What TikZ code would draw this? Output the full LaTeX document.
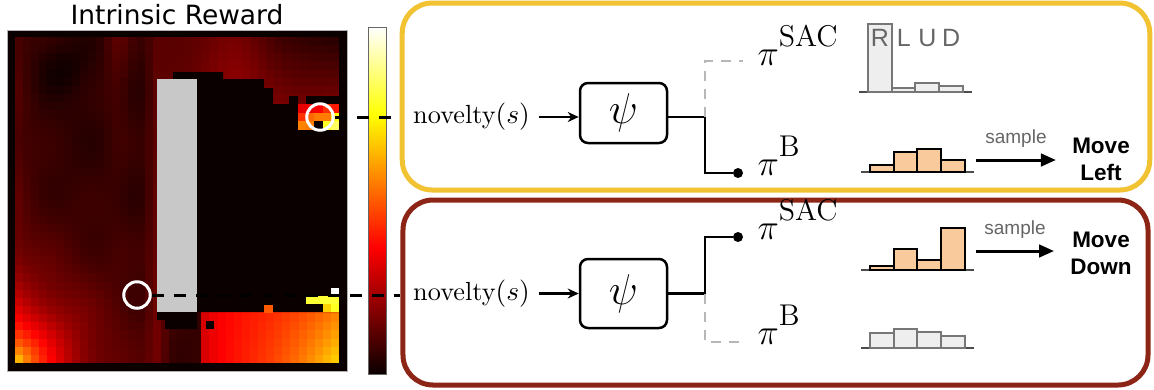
\documentclass[tikz,border=0pt]{standalone}
\usepackage{fontspec}
\setsansfont{Liberation Sans}
\newfontfamily\plotfont{DejaVu Sans}
\usetikzlibrary{arrows.meta,positioning}

\definecolor{goldline}{HTML}{F1C232}
\definecolor{berryline}{HTML}{8C2516}
\definecolor{peach}{HTML}{F9CB9C}
\definecolor{barline}{HTML}{777777}
\definecolor{barfill}{HTML}{EEEEEE}
\definecolor{offpath}{HTML}{B7B7B7}
\definecolor{wallgray}{HTML}{C8C8C8}
\definecolor{hot0}{rgb}{0.04,0,0}

% hot colour map: value -> colour hm
\newcommand{\sethot}[1]{%
  \pgfmathsetmacro\hotr{min(1,max(0.04,#1/0.365))}%
  \pgfmathsetmacro\hotg{min(1,max(0,(#1-0.365)/0.381))}%
  \pgfmathsetmacro\hotb{min(1,max(0,(#1-0.746)/0.254))}%
  \definecolor{hm}{rgb}{\hotr,\hotg,\hotb}}
\newcommand{\hotrect}[5]{\sethot{#5}\fill[hm] (#1,#2) rectangle ++(#3,#4);}

\newcommand{\policy}[1]{$\pi$\raisebox{7.5pt}{\fontsize{12}{14}\selectfont\rmfamily #1}}

% name, first bar x, baseline y, bar style, heights
\newcommand{\histo}[5]{%
  \draw[axisline] (#2-9,#3) -- (#2+104,#3);
  \foreach \h [count=\k from 0] in {#5}
    \draw[#4] ({#2+23.7*\k},#3) rectangle ++(23.7,-\h);
  \coordinate (#1) at (#2+106,#3);}

\begin{document}
\begin{tikzpicture}[x=0.4pt,y=-0.4pt,
  panel/.style={rectangle,rounded corners=12pt,line width=2pt,minimum width=299pt},
  psibox/.style={draw,rectangle,rounded corners=3.2pt,line width=1pt,minimum width=34.8pt,
    font=\fontsize{16}{18}\selectfont},
  novel/.style={font=\fontsize{10.5}{12}\selectfont},
  feed/.style={line width=0.9pt,-{Stealth[length=4.4pt,width=4pt]}},
  chosen/.style={line width=0.9pt},
  skipped/.style={line width=0.9pt,offpath,dash pattern=on 4pt off 3.2pt},
  pick/.style={circle,fill,inner sep=0pt,minimum size=4pt},
  pinode/.style={inner sep=0pt,anchor=base west,font=\fontsize{14}{16}\selectfont},
  axisline/.style={line width=0.7pt,black!70},
  greybar/.style={draw=barline,fill=barfill,line width=0.8pt},
  peachbar/.style={draw=black,fill=peach,line width=0.8pt},
  actlabel/.style={text=black!60,font=\sffamily\fontsize{10}{12}\selectfont,inner sep=0pt},
  drawarrow/.style={line width=1.2pt,-{Triangle[length=6pt,width=5pt]}},
  drawlabel/.style={text=black!60,font=\sffamily\fontsize{7.6}{9}\selectfont},
  movetext/.style={align=center,font=\sffamily\bfseries\fontsize{9}{10.8}\selectfont},
  ring/.style={circle,draw=white,line width=1.2pt,minimum size=10.6pt,inner sep=0pt},
  probe/.style={line width=1.2pt,dash pattern=on 4.8pt off 4pt}
  ]
  \useasboundingbox (0,0) rectangle (1154,389);

  % heat map
  \fill[hot0] (7,30) rectangle (347,371);
  \draw[black!30,line width=0.3pt] (7,30) rectangle (347,371);
  \foreach \i in {0,...,39}{%
    \foreach \j in {0,...,39}{%
      \pgfmathsetmacro\cu{(\i+0.5)/40}%
      \pgfmathsetmacro\cw{(\j+0.5)/40}%
      \def\zone{3}%
      \ifnum\i<18 \def\zone{0}\fi
      \ifnum\i>17 \ifnum\j<13 \def\zone{1}\fi\fi
      \ifnum\j>32 \ifnum\i>17 \ifnum\i<23 \def\zone{0}\else\def\zone{2}\fi\fi\fi
      \ifcase\zone
        \pgfmathsetmacro\hv{0.06+0.06*exp(0-\cu/0.05)
          +0.07*exp(0-((\cu-0.318)/0.043)^2)*exp(0-\cw/0.28)
          -0.04*exp(0-((\cu-0.139)/0.08)^2-((\cw-0.101)/0.08)^2)
          +0.012*sin(1400*\cu+300)*cos(1100*\cw)
          +0.6*exp(0-veclen(\cu,1-\cw)/0.15)
          +0.07*exp(0-((\cu-0.438)/0.03)^2)}%
      \or
        \pgfmathsetmacro\ks{min(1,max(0,1.8*\cu-0.806))}%
        \pgfmathsetmacro\kt{min(1,max(0,4.66*\cw))}%
        \pgfmathsetmacro\hv{0.13+0.07*exp(0-(9.257*\cu-6.286)^2)-0.08*\ks+0.13*\kt*\ks}%
      \or
        \pgfmathsetmacro\ks{min(1,max(0,2.314*\cu-1.321))}%
        \pgfmathsetmacro\kt{min(1,max(0,6.39*\cw-5.39))}%
        \pgfmathsetmacro\hv{0.38+0.18*\ks*\ks+0.14*\kt*\ks*\ks-0.1*exp(0-\ks/0.107)}%
      \else
        \def\hv{0}%
      \fi
      \sethot{\hv}%
      \fill[hm] ({15+8.1*\i},{37+8.15*\j}) rectangle ++(8.4,8.45);
    }
  }
  % unvisited part
  \fill[hot0] (173,72) -- (223,72) -- (223,79) -- (264,79) -- (264,88) -- (273,88)
    -- (273,104) -- (289,104) -- (289,96) -- (298,96) -- (298,130) -- (339,130)
    -- (339,312) -- (197,312) -- (197,329) -- (165,329) -- (165,320) -- (157,320)
    -- (157,79) -- (173,79) -- cycle;
  \fill[hot0] (306,96) rectangle (339,104);
  \fill[hot0] (206,321) rectangle (214,329);
  \foreach \hv [count=\k from 0] in {0.33,0.34,0.36,0.44,0.40}
    \hotrect{298+8.2*\k}{104}{8.4}{8.9}{\hv}
  \foreach \hv [count=\k from 0] in {0.44,0.52,0.55,0.55,0.74}
    \hotrect{298+8.2*\k}{112.7}{8.4}{8.9}{\hv}
  \foreach \hv [count=\k from 0] in {0.56,0.55,0,0.78,0.84}
    \hotrect{298+8.2*\k}{121.4}{8.4}{8.9}{\hv}
  \hotrect{306}{296}{33}{8.2}{0.80}
  \hotrect{323}{304}{8.2}{8.2}{0.68}
  \hotrect{331}{304}{8}{8.2}{0.78}
  \hotrect{264}{305}{9}{7.5}{0.50}
  \fill[white] (331,288) rectangle (339,296);
  % wall
  \fill[wallgray] (157,79) rectangle (197,312);

  \node[ring] (ctop) at (320,117) {};
  \node[ring] (cbot) at (137,295) {};

  % colour bar
  \shade[bottom color=hot0,top color=red] (368,247.3) rectangle (386,374);
  \shade[bottom color=red,top color=yellow] (368,115.1) rectangle (386,247.3);
  \shade[bottom color=yellow,top color=white] (368,27) rectangle (386,115.1);
  \draw[black!60,line width=0.4pt] (368,27) rectangle (386,374);

  \node[font=\plotfont\fontsize{10.6}{12}\selectfont] (title) at (177,15) {Intrinsic Reward};

  % panels
  \node[panel,draw=goldline,minimum height=74.8pt] (upper) at (776,96.5) {};
  \node[panel,draw=berryline,minimum width=298pt,minimum height=74pt] (lower) at (775.5,292.5) {};

  \draw[probe] (ctop.east) -- (ctop -| upper.west);
  \draw[probe] (cbot.east) -- (cbot -| lower.west);

  % upper: behaviour policy chosen
  \node[novel] (nov1) at (471.5,117) {novelty$(s)$};
  \node[psibox,minimum height=24pt] (psi1) at (623.5,113) {$\psi$};
  \coordinate (fork1) at (705,117);
  \coordinate (sacend1) at (743,61);
  \node[pick] (dot1) at (738,173) {};
  \node[pinode] (sac1) at (757,65) {\policy{SAC}};
  \node[pinode] (beh1) at (757,175) {\policy{B}};
  \draw[feed] (nov1) -- (nov1 -| psi1.west);
  \draw[chosen] (psi1.east |- nov1) -- (fork1) |- (dot1);
  \draw[skipped] (fork1) |- (sacend1);
  \histo{hsac1}{868}{92}{greybar}{68,4,9,6}
  \foreach \a [count=\k from 0] in {R,L,U,D}
    \node[actlabel] (act\a) at ({880+23.7*\k},38) {\a};
  \histo{hbeh1}{870}{172}{peachbar}{7,20,23,12}
  \coordinate (draw1) at (976,160);
  \node[movetext] (mv1) at (1101,159.5) {Move\\Left};
  \draw[drawarrow] (draw1) -- ([xshift=-3pt]draw1 -| mv1.west) node[drawlabel,midway,above=1pt] (lab1) {sample};

  % lower: SAC policy chosen
  \node[novel] (nov2) at (471.5,293.5) {novelty$(s)$};
  \node[psibox,minimum height=27.6pt] (psi2) at (623.5,293.5) {$\psi$};
  \coordinate (fork2) at (705,293.5);
  \coordinate (behend2) at (743,342);
  \node[pick] (dot2) at (738,237) {};
  \node[pinode] (sac2) at (757,239) {\policy{SAC}};
  \node[pinode] (beh2) at (757,344) {\policy{B}};
  \draw[feed] (nov2) -- (nov2 -| psi2.west);
  \draw[chosen] (psi2.east |- nov2) -- (fork2) |- (dot2);
  \draw[skipped] (fork2) |- (behend2);
  \histo{hsac2}{870}{270}{peachbar}{4,21,10,42}
  \histo{hbeh2}{870}{348}{greybar}{15,19,16,12}
  \coordinate (draw2) at (976,251);
  \node[movetext] (mv2) at (1101,253.5) {Move\\Down};
  \draw[drawarrow] (draw2) -- ([xshift=-3pt]draw2 -| mv2.west) node[drawlabel,midway,above=1pt] (lab2) {sample};
\end{tikzpicture}
\end{document}
